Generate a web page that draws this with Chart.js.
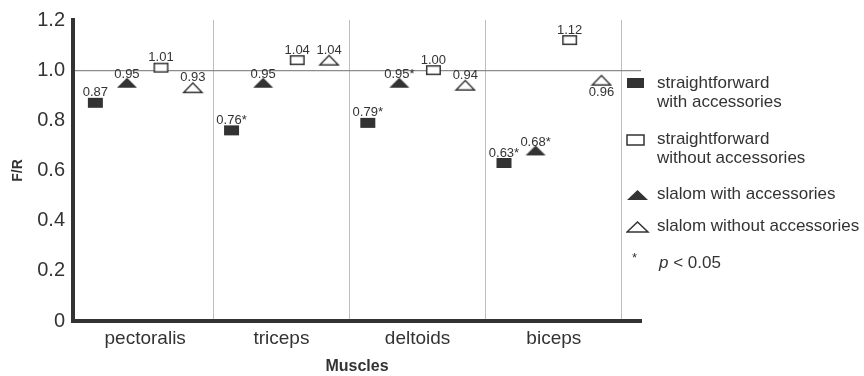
<!DOCTYPE html>
<html>
<head>
<meta charset="utf-8">
<script src="https://cdn.jsdelivr.net/npm/chart.js@4.4.1/dist/chart.umd.min.js"></script>
<style>
  html, body { margin: 0; padding: 0; background: #ffffff; }
  #wrap { position: relative; width: 864px; height: 376px; overflow: hidden; font-family: "Liberation Sans", Arial, sans-serif; color: #333; }
  #chart { position: absolute; left: 0; top: 0; }
  .lg { position: absolute; font-size: 17px; line-height: 19px; color: #333; white-space: nowrap; }
  .mk { position: absolute; }
</style>
</head>
<body>
<div id="wrap">
  <canvas id="chart" width="864" height="376"></canvas>
  <div id="legend"></div>
</div>
<script>
// ---------------- data ----------------
const categories = ["pectoralis", "triceps", "deltoids", "biceps"];
const seriesNames = [
  "straightforward with accessories",
  "straightforward without accessories",
  "slalom with accessories",
  "slalom without accessories"
];
const sfWith     = [0.87, 0.76, 0.79, 0.63];
const sfWithout  = [1.01, 1.04, 1.00, 1.12];
const slWith     = [0.95, 0.95, 0.95, 0.68];
const slWithout  = [0.93, 1.04, 0.94, 0.96];
// significance (p < 0.05) flags
const sfWithSig    = [false, true, true, true];
const sfWithoutSig = [false, false, false, false];
const slWithSig    = [false, false, true, true];
const slWithoutSig = [false, false, false, false];
const yTicks = [0, 0.2, 0.4, 0.6, 0.8, 1.0, 1.2];

// ---------------- styles ----------------
const DARK = '#333333';
function rectImg(w, h, filled) {
  const c = document.createElement('canvas');
  c.width = w + 2; c.height = h + 2;
  const g = c.getContext('2d');
  if (filled) { g.fillStyle = DARK; g.fillRect(1, 1, w, h); }
  else { g.fillStyle = '#fff'; g.fillRect(1, 1, w, h); g.strokeStyle = DARK; g.lineWidth = 1.5; g.strokeRect(1.75, 1.75, w - 1.5, h - 1.5); }
  return c;
}
function triImg(w, h, filled) {
  const c = document.createElement('canvas');
  c.width = w + 2; c.height = h + 2;
  const g = c.getContext('2d');
  g.beginPath(); g.moveTo(1, h + 1); g.lineTo(w / 2 + 1, 1); g.lineTo(w + 1, h + 1); g.closePath();
  if (filled) { g.fillStyle = DARK; g.fill(); }
  else {
    g.beginPath(); g.moveTo(1.8, h + 0.3); g.lineTo(w / 2 + 1, 1.8); g.lineTo(w + 0.2, h + 0.3); g.closePath();
    g.fillStyle = '#fff'; g.fill(); g.strokeStyle = DARK; g.lineWidth = 1.4; g.stroke();
  }
  return c;
}

const seriesDefs = [
  { name: seriesNames[0], values: sfWith,    sig: sfWithSig,    offset: -0.366, img: rectImg(15, 10, true),  lab: -10 },
  { name: seriesNames[1], values: sfWithout, sig: sfWithoutSig, offset:  0.116, img: rectImg(15, 10, false), lab: -10 },
  { name: seriesNames[2], values: slWith,    sig: slWithSig,    offset: -0.134, img: triImg(20, 10, true),   lab: -8 },
  { name: seriesNames[3], values: slWithout, sig: slWithoutSig, offset:  0.35,  img: triImg(20, 11, false),  lab: -10 }
];
// label placed below the marker for these (series index, category index)
const labelsBelow = [[3, 3]];

const datasets = seriesDefs.map((s, si) => ({
  label: s.name,
  data: s.values.map((v, i) => ({ x: i + 0.5 + s.offset, y: v })),
  pointStyle: s.img,
  pointRadius: 8,
  pointHoverRadius: 8,
  showLine: false
}));

const valueLabels = {
  id: 'valueLabels',
  afterDatasetsDraw(chart) {
    const ctx = chart.ctx;
    ctx.save();
    ctx.font = '13px "Liberation Sans", Arial, sans-serif';
    ctx.fillStyle = DARK;
    ctx.textAlign = 'center';
    ctx.textBaseline = 'middle';
    seriesDefs.forEach((s, si) => {
      const meta = chart.getDatasetMeta(si);
      meta.data.forEach((pt, i) => {
        const txt = s.values[i].toFixed(2) + (s.sig[i] ? '*' : '');
        const below = labelsBelow.some(p => p[0] === si && p[1] === i);
        const dy = below ? 12.5 : s.lab;
        ctx.fillText(txt, pt.x, pt.y + dy);
      });
    });
    ctx.restore();
  }
};

const FONT = '"Liberation Sans", Arial, sans-serif';
new Chart(document.getElementById('chart'), {
  type: 'scatter',
  data: { datasets },
  plugins: [valueLabels],
  options: {
    responsive: false,
    animation: false,
    devicePixelRatio: 1,
    events: [],
    layout: { padding: { left: 0, right: 223, top: 19, bottom: 0 } },
    plugins: { legend: { display: false }, tooltip: { enabled: false } },
    scales: {
      x: {
        type: 'linear',
        min: -0.03,
        max: 4.14,
        afterBuildTicks: (scale) => {
          const t = [];
          categories.forEach((c, i) => { t.push({ value: i + 0.5 }); t.push({ value: i + 1 }); });
          scale.ticks = t;
        },
        afterFit: (scale) => { scale.height = 55; },
        ticks: {
          autoSkip: false,
          maxRotation: 0,
          padding: 6,
          color: DARK,
          font: { family: FONT, size: 19 },
          callback: (v) => {
            const k = v - 0.5;
            return Math.abs(k - Math.round(k)) < 1e-6 ? categories[Math.round(k)] : '';
          }
        },
        grid: {
          drawTicks: false,
          lineWidth: 1,
          color: (ctx) => (ctx.tick && Math.abs(ctx.tick.value - Math.round(ctx.tick.value)) < 1e-6) ? '#bdbdbd' : 'rgba(0,0,0,0)'
        },
        border: { display: true, color: DARK, width: 4 },
        title: { display: true, text: 'Muscles', color: DARK, font: { family: FONT, size: 16, weight: 'bold' }, padding: { top: 0, bottom: 0 } }
      },
      y: {
        type: 'linear',
        min: 0,
        max: 1.2,
        afterBuildTicks: (scale) => { scale.ticks = yTicks.map(v => ({ value: v })); },
        afterFit: (scale) => { scale.width = 73; },
        ticks: {
          padding: 8,
          color: DARK,
          font: { family: FONT, size: 20 },
          callback: (v) => (v === 0 ? '0' : v.toFixed(1))
        },
        grid: {
          drawTicks: false,
          lineWidth: 1.2,
          color: (ctx) => (ctx.tick && Math.abs(ctx.tick.value - 1) < 1e-6) ? '#8c8c8c' : 'rgba(0,0,0,0)'
        },
        border: { display: true, color: DARK, width: 4 },
        title: { display: true, text: 'F/R', color: DARK, font: { family: FONT, size: 14, weight: 'bold' }, padding: { top: 10, bottom: 0 } }
      }
    }
  }
});

// ---------------- legend (HTML) ----------------
const legend = document.getElementById('legend');
function svgMarker(kind, left, top) {
  const ns = 'http://www.w3.org/2000/svg';
  const s = document.createElementNS(ns, 'svg');
  s.setAttribute('class', 'mk');
  s.setAttribute('width', '24'); s.setAttribute('height', '14');
  s.style.left = left + 'px'; s.style.top = top + 'px';
  let el;
  if (kind === 'rectF' || kind === 'rectO') {
    el = document.createElementNS(ns, 'rect');
    el.setAttribute('x', '1'); el.setAttribute('y', '1');
    el.setAttribute('width', '17'); el.setAttribute('height', '10');
  } else {
    el = document.createElementNS(ns, 'polygon');
    el.setAttribute('points', '1,11 11.5,1 22,11');
  }
  if (kind.endsWith('F')) { el.setAttribute('fill', DARK); }
  else { el.setAttribute('fill', '#fff'); el.setAttribute('stroke', DARK); el.setAttribute('stroke-width', '1.5'); }
  s.appendChild(el);
  legend.appendChild(s);
}
function addText(html, left, top) {
  const d = document.createElement('div');
  d.className = 'lg';
  d.style.left = left + 'px'; d.style.top = top + 'px';
  d.innerHTML = html;
  legend.appendChild(d);
}
svgMarker('rectF', 626, 77);
addText('straightforward<br>with accessories', 657, 73);
svgMarker('rectO', 626, 134);
addText('straightforward<br>without accessories', 657, 129);
svgMarker('triF', 626, 189);
addText(seriesNames[2], 657, 184);
svgMarker('triO', 626, 221);
addText(seriesNames[3], 657, 216);
addText('<span style="font-size:13px;position:relative;top:-6px;left:-1px">*</span>', 633, 253);
addText('<i>p</i> &lt; 0.05', 659, 253);
</script>
</body>
</html>
